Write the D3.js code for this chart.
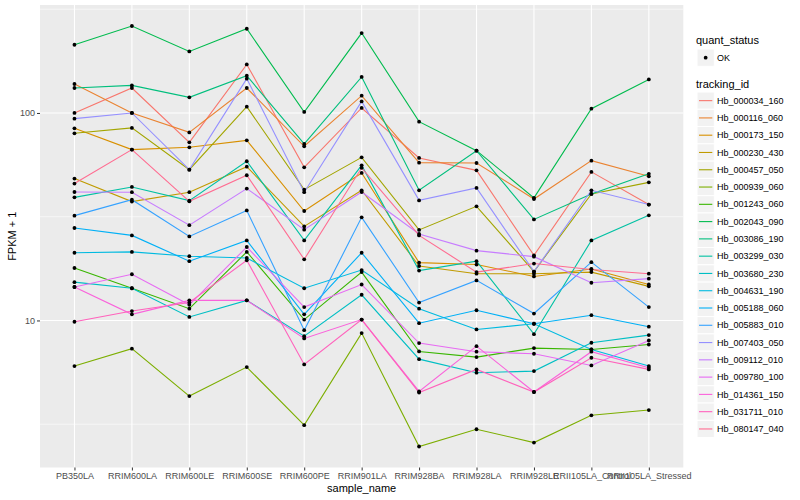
<!DOCTYPE html>
<html><head><meta charset="utf-8">
<script src="https://cdn.jsdelivr.net/npm/d3@7"></script>
<style>body{margin:0;background:#fff;} text{font-family:"Liberation Sans",Arial,Helvetica,sans-serif;}</style>
</head><body><svg id="c" width="800" height="500"></svg>
<script>
const samples = ["PB350LA","RRIM600LA","RRIM600LE","RRIM600SE","RRIM600PE","RRIM901LA","RRIM928BA","RRIM928LA","RRIM928LE","RRII105LA_Control","RRII105LA_Stressed"];
const trackingIds = ["Hb_000034_160","Hb_000116_060","Hb_000173_150","Hb_000230_430","Hb_000457_050","Hb_000939_060","Hb_001243_060","Hb_002043_090","Hb_003086_190","Hb_003299_030","Hb_003680_230","Hb_004631_190","Hb_005188_060","Hb_005883_010","Hb_007403_050","Hb_009112_010","Hb_009780_100","Hb_014361_150","Hb_031711_010","Hb_080147_040"];
const quantStatus = ["OK"];
const yTicks = [10, 100];
const yMinorTicks = [3.1623, 31.623, 316.23];

const Hb_000034_160 = [100, 131.9, 72.2, 171.4, 54.7, 105.7, 60.7, 52.9, 20.6, 52.0, 36.2];
const Hb_000116_060 = [137.9, 100, 80.6, 131.9, 69.1, 121.1, 57.6, 57.4, 38.5, 58.9, 49.5];
const Hb_000173_150 = [84.3, 66.6, 68.3, 73.8, 33.7, 51.4, 19.0, 18.6, 16.3, 17.7, 14.9];
const Hb_000230_430 = [48.3, 37.4, 41.5, 55.1, 28.4, 42.4, 18.3, 16.8, 16.8, 17.1, 14.6];
const Hb_000457_050 = [79.8, 84.7, 53.3, 107.2, 42.7, 61.1, 27.3, 35.5, 17.2, 40.7, 46.3];
const Hb_000939_060 = [6.03, 7.31, 4.32, 5.96, 3.13, 8.69, 2.47, 2.99, 2.58, 3.49, 3.70];
const Hb_001243_060 = [17.9, 14.3, 11.4, 21.4, 10.1, 17.1, 7.09, 6.66, 7.36, 7.25, 7.66];
const Hb_002043_090 = [213.2, 262.4, 198.0, 254.6, 101.1, 242.7, 90.8, 65.8, 39.0, 104.9, 145.1];
const Hb_003086_190 = [131.9, 135.8, 118.9, 151.2, 70.9, 149.1, 42.4, 65.8, 30.7, 40.7, 50.9];
const Hb_003299_030 = [39.2, 44.0, 37.8, 58.5, 24.3, 55.9, 17.4, 19.3, 8.59, 24.3, 32.1];
const Hb_003680_230 = [15.3, 14.3, 10.4, 12.5, 8.40, 13.3, 6.51, 5.60, 5.70, 7.81, 8.50];
const Hb_004631_190 = [21.2, 21.4, 20.4, 20.0, 14.3, 17.5, 11.4, 9.05, 9.64, 7.25, 6.03];
const Hb_005188_060 = [27.9, 25.7, 19.3, 24.3, 10.7, 21.2, 9.70, 11.2, 9.64, 10.6, 9.33];
const Hb_005883_010 = [32.0, 38.2, 25.4, 33.9, 8.98, 31.4, 12.2, 15.6, 10.8, 19.1, 11.6];
const Hb_007403_050 = [93.9, 100, 53.3, 146.3, 41.5, 113.7, 37.9, 43.5, 17.2, 42.4, 36.2];
const Hb_009112_010 = [41.6, 41.5, 28.8, 43.2, 27.4, 41.6, 26.1, 21.7, 20.3, 15.2, 15.9];
const Hb_009780_100 = [14.5, 16.7, 11.9, 22.6, 11.6, 14.9, 7.78, 7.07, 6.91, 6.07, 8.01];
const Hb_014361_150 = [14.5, 10.7, 12.5, 12.5, 8.19, 10.1, 4.55, 7.52, 4.52, 7.07, 5.92];
const Hb_031711_010 = [9.86, 11.1, 12.2, 19.5, 6.14, 10.1, 4.49, 5.81, 4.52, 6.61, 5.81];
const Hb_080147_040 = [45.7, 66.6, 37.5, 50.1, 19.7, 54.4, 25.7, 17.1, 18.8, 17.6, 16.8];

const seriesValues = [Hb_000034_160, Hb_000116_060, Hb_000173_150, Hb_000230_430, Hb_000457_050, Hb_000939_060, Hb_001243_060, Hb_002043_090, Hb_003086_190, Hb_003299_030, Hb_003680_230, Hb_004631_190, Hb_005188_060, Hb_005883_010, Hb_007403_050, Hb_009112_010, Hb_009780_100, Hb_014361_150, Hb_031711_010, Hb_080147_040];
const palette = ["#F8766D","#EA8331","#D89000","#C09B00","#A3A500","#7CAE00","#39B600","#00BB4E","#00BF7D","#00C1A3","#00BFC4","#00BAE0","#00B0F6","#35A2FF","#9590FF","#C77CFF","#E76BF3","#FA62DB","#FF62BC","#FF6C91"];

const series = trackingIds.map((id, i) => ({id, color: palette[i], values: seriesValues[i].map((v, j) => ({s: samples[j], v}))}));

const svg = d3.select("#c");
const P = {left: 40, top: 5, right: 683.3, bottom: 467.5};

const x = d3.scalePoint().domain(samples).range([P.left, P.right]).padding(0.6);
const all = seriesValues.flat();
const lmin = Math.log10(d3.min(all)), lmax = Math.log10(d3.max(all));
const ex = (lmax - lmin) * 0.05;
const y = d3.scaleLog().domain([Math.pow(10, lmin - ex), Math.pow(10, lmax + ex)]).range([P.bottom, P.top]);

// panel
svg.append("rect").attr("x", P.left).attr("y", P.top).attr("width", P.right - P.left).attr("height", P.bottom - P.top).attr("fill", "#EBEBEB");
const g = svg.append("g");
g.selectAll(".ymin").data(yMinorTicks).join("line")
  .attr("x1", P.left).attr("x2", P.right).attr("y1", d => y(d)).attr("y2", d => y(d))
  .attr("stroke", "#fff").attr("stroke-width", 0.55);
g.selectAll(".ymaj").data(yTicks).join("line")
  .attr("x1", P.left).attr("x2", P.right).attr("y1", d => y(d)).attr("y2", d => y(d))
  .attr("stroke", "#fff").attr("stroke-width", 1.1);
g.selectAll(".xmaj").data(samples).join("line")
  .attr("x1", d => x(d)).attr("x2", d => x(d)).attr("y1", P.top).attr("y2", P.bottom)
  .attr("stroke", "#fff").attr("stroke-width", 1.1);

// lines
const line = d3.line().x(d => x(d.s)).y(d => y(d.v));
svg.append("g").selectAll("path").data(series).join("path")
  .attr("d", d => line(d.values)).attr("fill", "none")
  .attr("stroke", d => d.color).attr("stroke-width", 1.1);

// points
svg.append("g").selectAll("circle").data(series.flatMap(d => d.values)).join("circle")
  .attr("cx", d => x(d.s)).attr("cy", d => y(d.v)).attr("r", 1.9).attr("fill", "#000");

// axes
const yAxis = svg.append("g").attr("transform", `translate(${P.left},0)`)
  .call(d3.axisLeft(y).tickValues(yTicks).tickFormat(d3.format("d")).tickSize(3).tickPadding(2));
const xAxis = svg.append("g").attr("transform", `translate(0,${P.bottom})`)
  .call(d3.axisBottom(x).tickSize(3).tickPadding(2));
[yAxis, xAxis].forEach(a => {
  a.select(".domain").remove();
  a.selectAll(".tick line").attr("stroke", "#333333").attr("stroke-width", 1);
  a.selectAll(".tick text").attr("fill", "#4D4D4D").style("font-size", "9px").style("font-family", "'Liberation Sans', Arial, sans-serif");
});

// axis titles
svg.append("text").attr("x", (P.left + P.right) / 2).attr("y", 492).attr("text-anchor", "middle")
  .style("font-size", "11px").attr("fill", "#000").text("sample_name");
svg.append("text").attr("transform", `translate(16,${(P.top + P.bottom) / 2}) rotate(-90)`).attr("text-anchor", "middle")
  .style("font-size", "11px").attr("fill", "#000").text("FPKM + 1");

// legend: quant_status
const LX = 696, KX = 697, KW = 17.3;
svg.append("text").attr("x", LX).attr("y", 44).style("font-size", "11px").attr("fill", "#000").text("quant_status");
const qs = svg.append("g").selectAll("g").data(quantStatus).join("g").attr("transform", (d, i) => `translate(${KX},${49 + i * KW})`);
qs.append("rect").attr("width", KW).attr("height", KW).attr("fill", "#F2F2F2").attr("stroke", "#fff").attr("stroke-width", 1);
qs.append("circle").attr("cx", KW / 2).attr("cy", KW / 2).attr("r", 1.9).attr("fill", "#000");
qs.append("text").attr("x", KW + 2.7).attr("y", KW / 2).attr("dy", "0.35em").style("font-size", "9px").attr("fill", "#000").text(d => d);

// legend: tracking_id
svg.append("text").attr("x", LX).attr("y", 88).style("font-size", "11px").attr("fill", "#000").text("tracking_id");
const ti = svg.append("g").selectAll("g").data(series).join("g").attr("transform", (d, i) => `translate(${KX},${92 + i * 17.28})`);
ti.append("rect").attr("width", KW).attr("height", 17.28).attr("fill", "#F2F2F2").attr("stroke", "#fff").attr("stroke-width", 1);
ti.append("line").attr("x1", 2).attr("x2", KW - 2).attr("y1", 17.28 / 2).attr("y2", 17.28 / 2).attr("stroke", d => d.color).attr("stroke-width", 1.1);
ti.append("text").attr("x", KW + 2.7).attr("y", 17.28 / 2).attr("dy", "0.35em").style("font-size", "9px").attr("fill", "#000").text(d => d.id);
</script></body></html>
